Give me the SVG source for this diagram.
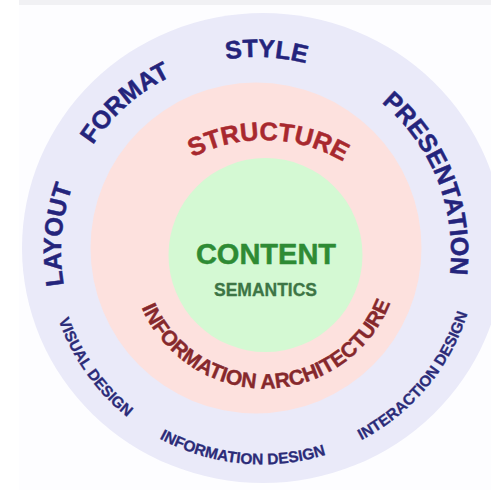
<svg xmlns="http://www.w3.org/2000/svg" width="491" height="492" viewBox="0 0 491 492">
<style>
  text { font-family: "Liberation Sans", Arial, sans-serif; font-weight: bold; stroke-width: 0.5; stroke-linejoin: round; }
  .outer { fill: #24247c; stroke: #24247c; font-size: 25px; }
  .small { fill: #2b2b78; stroke: #2b2b78; stroke-width: 0.3; font-size: 15.5px; }
  .struct { fill: #a8282e; stroke: #a8282e; font-size: 25.5px; }
  .ia { fill: #86282c; stroke: #86282c; stroke-width: 0.4; font-size: 21px; }
  .content { fill: #2e8b34; stroke: #2e8b34; font-size: 29px; }
  .sem { fill: #3d7545; stroke: #3d7545; stroke-width: 0.3; font-size: 17.5px; }
</style>
<defs>
  <path id="arcTop" d="M 87.1 349.5 A 195 195 0 1 1 424.9 349.5"/>
  <path id="arcBottom" d="M 46.5 249 A 215.5 215.5 0 0 0 477.5 249"/>
  <path id="arcStructure" d="M 108.1 296 A 155.9 155.9 0 0 1 419.9 296"/>
  <path id="arcIA" d="M 130.5 254 A 134.5 134.5 0 0 0 399.5 254"/>
</defs>
<rect width="491" height="492" fill="#ffffff"/>
<rect x="19" y="0" width="472" height="5" fill="#f1f1f4"/>
<rect x="19" y="5" width="472" height="485" fill="#fdfdff"/>

<g id="outer-ring">
  <ellipse cx="263" cy="248" rx="241" ry="235" fill="#eaeaf9"/>
  <text class="outer"><textPath href="#arcTop" startOffset="14.58%" text-anchor="middle">LAYOUT</textPath></text>
  <text class="outer"><textPath href="#arcTop" startOffset="32.79%" text-anchor="middle">FORMAT</textPath></text>
  <text class="outer"><textPath href="#arcTop" startOffset="51.25%" text-anchor="middle">STYLE</textPath></text>
  <text class="outer"><textPath href="#arcTop" startOffset="78.46%" text-anchor="middle">PRESENTATION</textPath></text>
  <text class="small"><textPath href="#arcBottom" startOffset="19.6%" text-anchor="middle">VISUAL DESIGN</textPath></text>
  <text class="small"><textPath href="#arcBottom" startOffset="46.9%" text-anchor="middle">INFORMATION DESIGN</textPath></text>
  <text class="small"><textPath href="#arcBottom" startOffset="77.8%" text-anchor="middle">INTERACTION DESIGN</textPath></text>
</g>

<g id="structure-ring">
  <circle cx="256" cy="248" r="165.5" fill="#fde1de"/>
  <text class="struct"><textPath href="#arcStructure" startOffset="50.9%" text-anchor="middle">STRUCTURE</textPath></text>
  <text class="ia"><textPath href="#arcIA" startOffset="50.6%" text-anchor="middle">INFORMATION ARCHITECTURE</textPath></text>
</g>

<g id="content-core">
  <circle cx="265.5" cy="255" r="97" fill="#d4f9d3"/>
  <text class="content" x="266" y="263.5" text-anchor="middle">CONTENT</text>
  <text class="sem" x="265.5" y="296" text-anchor="middle">SEMANTICS</text>
</g>
</svg>
